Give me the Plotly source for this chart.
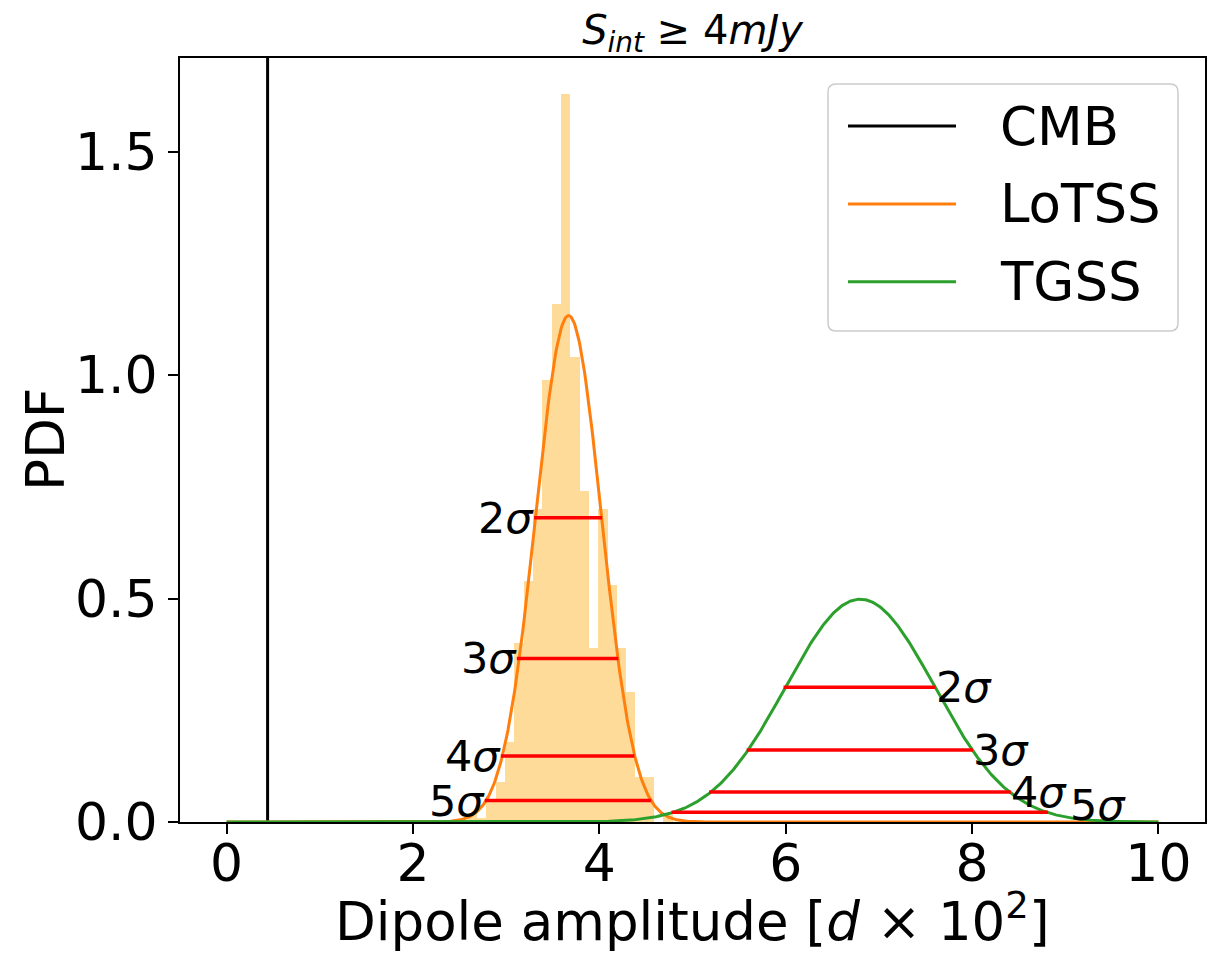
import numpy as np
import plotly.graph_objects as go

# ---- data -------------------------------------------------------------
# LoTSS bootstrap histogram (density), bin left edges and heights
bin_width = 0.1
bin_left = [2.588, 2.688, 2.788, 2.888, 2.988, 3.088, 3.188, 3.288, 3.388, 3.488,
            3.588, 3.688, 3.788, 3.888, 3.988, 4.088, 4.188, 4.288, 4.388, 4.488,
            4.588, 4.688]
bin_height = [0.02, 0.01, 0.05, 0.09, 0.18, 0.40, 0.54, 0.70, 0.99, 1.16,
              1.63, 1.04, 0.74, 0.39, 0.70, 0.53, 0.39, 0.29, 0.10, 0.10,
              0.0, 0.015]

# Gaussian fits: mean and standard deviation
lotss_mu, lotss_sd = 3.67, 0.352
tgss_mu, tgss_sd = 6.80, 0.80
cmb_amp = 0.44

# Confidence-level markers: label, height, left end, right end
sig_labels = ["2σ", "3σ", "4σ", "5σ"]
lotss_lvl_y = [0.681, 0.366, 0.148, 0.048]
lotss_lvl_x0 = [3.30, 3.115, 2.943, 2.771]
lotss_lvl_x1 = [4.03, 4.204, 4.376, 4.556]
tgss_lvl_y = [0.3015, 0.161, 0.067, 0.0217]
tgss_lvl_x0 = [5.977, 5.582, 5.178, 4.775]
tgss_lvl_x1 = [7.609, 8.010, 8.416, 8.816]
tgss_lbl_x = [7.609, 8.010, 8.416, 9.05]
tgss_lbl_y = [0.3015, 0.161, 0.067, 0.038]

x_ticks = [0, 2, 4, 6, 8, 10]
y_ticks = [0.0, 0.5, 1.0, 1.5]
x_range = [-0.5, 10.5]
y_range = [0, 1.71]

# ---- styles -----------------------------------------------------------
FONT = "DejaVu Sans"
C_LOTSS = "#ff7f0e"
C_TGSS = "#2ca02c"
C_HIST = "rgba(255,165,0,0.4)"
TICK_SIZE = 52
LABEL_SIZE = 53
SIG_SIZE = 43

# plot-area size in pixels (used for paper-coordinate placement)
W, H = 1025.0, 764.0


def gauss(x, mu, sd):
    return np.exp(-0.5 * ((x - mu) / sd) ** 2) / (sd * np.sqrt(2 * np.pi))


xs = np.linspace(0, 10, 1001)

fig = go.Figure()

fig.add_trace(go.Bar(
    x=[b + bin_width / 2 for b in bin_left], y=bin_height, width=bin_width,
    marker=dict(color=C_HIST, line=dict(width=0)), showlegend=False,
))

fig.add_trace(go.Scatter(
    x=[cmb_amp, cmb_amp], y=y_range, mode="lines",
    line=dict(color="black", width=3), name="CMB", showlegend=False,
))
fig.add_trace(go.Scatter(
    x=xs, y=gauss(xs, lotss_mu, lotss_sd), mode="lines",
    line=dict(color=C_LOTSS, width=3), name="LoTSS", showlegend=False,
))
fig.add_trace(go.Scatter(
    x=xs, y=gauss(xs, tgss_mu, tgss_sd), mode="lines",
    line=dict(color=C_TGSS, width=3), name="TGSS", showlegend=False,
))

for x0s, x1s, ys in [(lotss_lvl_x0, lotss_lvl_x1, lotss_lvl_y),
                     (tgss_lvl_x0, tgss_lvl_x1, tgss_lvl_y)]:
    for a, b, y in zip(x0s, x1s, ys):
        fig.add_trace(go.Scatter(
            x=[a, b], y=[y, y], mode="lines",
            line=dict(color="#ff0000", width=3.5), showlegend=False,
        ))


def sig_text(s):
    return s[0] + "<i>" + s[1:] + "</i>"


for lab, x, y in zip(sig_labels, lotss_lvl_x0, lotss_lvl_y):
    fig.add_annotation(x=x, y=y, text=sig_text(lab), showarrow=False,
                       xanchor="right", yanchor="middle", xshift=2,
                       font=dict(family=FONT, size=SIG_SIZE, color="black"))
for lab, x, y in zip(sig_labels, tgss_lbl_x, tgss_lbl_y):
    fig.add_annotation(x=x, y=y, text=sig_text(lab), showarrow=False,
                       xanchor="left", yanchor="middle", xshift=-2,
                       font=dict(family=FONT, size=SIG_SIZE, color="black"))

# ---- axis titles ----------------------------------------------------------
fig.add_annotation(x=0.5, y=(822 - 918) / H, xref="paper", yref="paper",
                   text="Dipole amplitude [<i>d</i> × 10<sup>2</sup>]",
                   showarrow=False, xanchor="center", yanchor="middle",
                   font=dict(family=FONT, size=LABEL_SIZE, color="black"))
fig.add_annotation(x=(45 - 180) / W, y=0.5, xref="paper", yref="paper",
                   text="PDF", textangle=-90,
                   showarrow=False, xanchor="center", yanchor="middle",
                   font=dict(family=FONT, size=LABEL_SIZE, color="black"))

# ---- legend box ---------------------------------------------------------
bx0, bx1 = 648 / W, 998 / W
by0, by1 = 1 - 273 / H, 1 - 26 / H
rx, ry = 8 / W, 8 / H
box = (f"M {bx0+rx},{by1} L {bx1-rx},{by1} Q {bx1},{by1} {bx1},{by1-ry} "
       f"L {bx1},{by0+ry} Q {bx1},{by0} {bx1-rx},{by0} L {bx0+rx},{by0} "
       f"Q {bx0},{by0} {bx0},{by0+ry} L {bx0},{by1-ry} Q {bx0},{by1} {bx0+rx},{by1} Z")
fig.add_shape(type="path", path=box, xref="paper", yref="paper",
              fillcolor="rgba(255,255,255,0.8)", line=dict(color="#cccccc", width=1.5),
              layer="above")
legend_items = [("CMB", "black"), ("LoTSS", C_LOTSS), ("TGSS", C_TGSS)]
legend_rows = [126, 204, 281.7]
for (name, col), py in zip(legend_items, legend_rows):
    yy = (822 - py) / H
    fig.add_shape(type="line", xref="paper", yref="paper",
                  x0=668 / W, x1=776 / W, y0=yy, y1=yy,
                  line=dict(color=col, width=3), layer="above")
    fig.add_annotation(x=818 / W, y=yy, xref="paper", yref="paper", text=name,
                       showarrow=False, xanchor="left", yanchor="middle",
                       font=dict(family=FONT, size=LABEL_SIZE, color="black"))

axis_common = dict(
    showline=True, linecolor="black", linewidth=2, mirror=True,
    ticks="outside", ticklen=10, tickwidth=2, tickcolor="black",
    showgrid=False, zeroline=False, automargin=False,
    tickfont=dict(family=FONT, size=TICK_SIZE, color="black"),
)

fig.update_layout(
    width=1213, height=955,
    margin=dict(l=180, r=8, t=58, b=133),
    paper_bgcolor="white", plot_bgcolor="white",
    bargap=0,
    title=dict(text="<i>S</i><sub><i>int</i></sub> ≥ 4<i>mJy</i>",
               x=(180 + 1205) / 2 / 1213, xanchor="center",
               y=1 - 30 / 955, yanchor="middle",
               font=dict(family=FONT, size=40, color="black")),
    xaxis=dict(range=x_range, tickvals=x_ticks, ticktext=[str(t) for t in x_ticks],
               ticklabelstandoff=-15, **axis_common),
    yaxis=dict(range=y_range, tickvals=y_ticks, ticktext=[f"{t:.1f}" for t in y_ticks],
               **axis_common),
)

fig.write_html("out.html")
